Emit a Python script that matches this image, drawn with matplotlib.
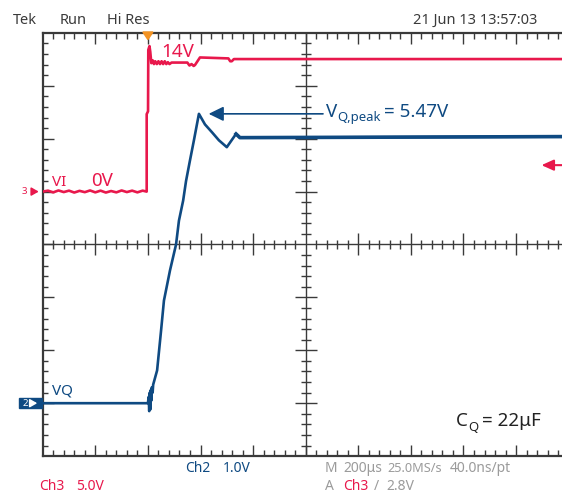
import matplotlib
matplotlib.use("Agg")
import matplotlib.pyplot as plt
from matplotlib.patches import Polygon, Rectangle, FancyArrowPatch

plt.rcParams['font.family'] = ['Noto Sans', 'DejaVu Sans']

# ---- scope settings ----
time_per_div_us = 200.0
trigger_div = 2.0          # trigger point, divisions from the left edge
vq_volts_per_div = 1.0
vq_ground_div = -3.0
vi_volts_per_div = 5.6
vi_ground_div = 1.0
trigger_level_v = 2.8

# ---- Ch2: regulator output VQ ----
vq_time_us = [-400, 0, 3, 5, 7, 9, 11, 13, 15, 18, 20, 35, 50, 61, 84, 107,
              118, 134, 145, 160, 175, 194, 217, 244, 270, 300, 335, 350, 1600]
vq_volts = [0.0, 0.0, 0.12, -0.15, 0.2, -0.12, 0.25, 0.05, 0.3, 0.2, 0.35,
            0.62, 1.37, 1.94, 2.51, 3.0, 3.45, 3.83, 4.2, 4.59, 4.97, 5.47,
            5.27, 5.12, 4.97, 4.84, 5.09, 5.02, 5.04]
vq_peak_v = 5.47
vq_peak_t = 194

# ---- Ch3: input VI ----
vi_time_us = [-400, -380, -360, -340, -320, -300, -280, -260, -240, -220,
              -200, -180, -160, -140, -120, -100, -80, -60, -40, -20, -5,
              -4.6, -4.6, 0.5, 1.5, 6, 9, 13, 18, 23, 28, 34, 40, 46, 52,
              58, 64, 70, 76, 82, 90, 150, 158, 166, 174, 179, 198, 306,
              313, 319, 327, 1600]
vi_volts = [0.0, 0.1, -0.08, 0.12, -0.05, 0.1, -0.1, 0.08, -0.06, 0.12,
            -0.08, 0.1, -0.1, 0.06, -0.08, 0.12, -0.05, 0.1, -0.08, 0.1, 0.0,
            0.0, 8.2, 8.5, 15.0, 15.4, 14.8, 13.6, 13.9, 13.5, 13.8, 13.5,
            13.8, 13.5, 13.8, 13.5, 13.8, 13.5, 13.7, 13.5, 13.66, 13.66,
            13.35, 13.5, 13.3, 13.4, 14.2, 14.1, 13.8, 13.8, 14.03, 14.03]
vi_initial_v = 0
vi_final_v = 14
cq_uf = 22

RED = '#e8184c'
BLUE = '#0f4a82'
DARK = '#3a3a3a'
GREY = '#9b9b9b'

W, H = 562, 493
fig = plt.figure(figsize=(W / 100, H / 100), dpi=100)
fig.patch.set_facecolor('white')
renderer = fig.canvas.get_renderer()

# graticule geometry in pixels
left_px, top_px = 42.7, 32.9
div_w, div_h = 52.6, 52.9
ax = fig.add_axes([left_px / W, 1 - (top_px + 8 * div_h) / H,
                   10 * div_w / W, 8 * div_h / H])
ax.set_xlim(0, 10)
ax.set_ylim(-4, 4)
ax.axis('off')


def px(x, y):
    return x / W, 1 - y / H


def t2x(t):
    return [trigger_div + v / time_per_div_us for v in t]


# ---- graticule ----
gk = dict(color=DARK, lw=1.0, solid_capstyle='butt', clip_on=False)
ax.plot([0, 10], [4, 4], color=DARK, lw=1.6, clip_on=False)
ax.plot([0, 10], [-4, -4], color=DARK, lw=1.6, clip_on=False)
ax.plot([0, 0], [-4, 4], color=DARK, lw=1.6, clip_on=False)
ax.plot([5, 5], [-4, 4], color=DARK, lw=1.0)
ax.plot([0, 10], [0, 0], color=DARK, lw=1.0)
mx = 6 / div_h
Mx = 11 / div_h
for i in range(1, 50):
    x = i * 0.2
    major = (i % 5 == 0)
    lv = Mx if major else mx
    ax.plot([x, x], [4, 4 - lv], **gk)
    ax.plot([x, x], [-4, -4 + lv], **gk)
    c = 11 / div_h if major else 4.5 / div_h
    if i != 25:
        ax.plot([x, x], [-c, c], **gk)
for j in range(1, 40):
    y = -4 + j * 0.2
    major = (j % 5 == 0)
    lh = (11 if major else 5) / div_w
    ax.plot([0, lh], [y, y], **gk)
    c = (11 if major else 5) / div_w
    if j != 20:
        ax.plot([5 - c, 5 + c], [y, y], **gk)

# ---- traces ----
vq_y = [vq_ground_div + v / vq_volts_per_div for v in vq_volts]
vi_y = [vi_ground_div + v / vi_volts_per_div for v in vi_volts]
ax.plot(t2x(vi_time_us), vi_y, color=RED, lw=1.9, solid_joinstyle='round')
ax.plot(t2x(vq_time_us), vq_y, color=BLUE, lw=1.9, solid_joinstyle='round')
settle = vq_time_us.index(335)
ax.plot(t2x(vq_time_us[settle:]), vq_y[settle:], color=BLUE, lw=2.6)

# peak annotation arrow
peak_x = t2x([vq_peak_t])[0]
peak_y = vq_ground_div + vq_peak_v / vq_volts_per_div
ax.annotate('', xy=(peak_x, peak_y), xytext=((323 - left_px) / div_w, peak_y),
            arrowprops=dict(arrowstyle='-|>,head_length=0.45,head_width=0.22',
                            mutation_scale=20, color=BLUE, lw=1.2,
                            shrinkA=0, shrinkB=7))


def sub_label(x0, base, main, sub, rest, size, color, drop, gap):
    """Main letter, lowered subscript, then the rest, laid out side by side."""
    t = fig.text(*px(x0, base), main, color=color, fontsize=size,
                 ha='left', va='baseline')
    x1 = t.get_window_extent(renderer).x1 + 0.5
    s = fig.text(x1 / W, 1 - (base + drop) / H, sub, color=color,
                 fontsize=size * 0.7, ha='left', va='baseline')
    x2 = s.get_window_extent(renderer).x1 + gap
    fig.text(x2 / W, 1 - base / H, rest, color=color, fontsize=size,
             ha='left', va='baseline')


sub_label(326.0, 117.5, 'V', 'Q,peak', '= %.2fV' % vq_peak_v, 13.5, BLUE,
          4.0, 3.0)
sub_label(455.5, 426.5, 'C', 'Q', '= %dμF' % cq_uf, 13.5, '#222222',
          4.5, 4.0)

# value labels
fig.text(*px(161, 57), '%dV' % vi_final_v, color=RED, fontsize=13.5,
         ha='left', va='baseline')
fig.text(*px(91, 186), '%dV' % vi_initial_v, color=RED, fontsize=13.5,
         ha='left', va='baseline')
fig.text(*px(52.5, 186), 'VI', color=RED, fontsize=11, ha='left',
         va='baseline')
fig.text(*px(52.5, 394.5), 'VQ', color=BLUE, fontsize=11, ha='left',
         va='baseline')

# trigger level arrow (right edge)
trig_y = vi_ground_div + trigger_level_v / vi_volts_per_div
ax.annotate('', xy=((541.5 - left_px) / div_w, trig_y),
            xytext=((566 - left_px) / div_w, trig_y),
            arrowprops=dict(arrowstyle='-|>,head_length=0.4,head_width=0.18',
                            mutation_scale=18, color=RED, lw=1.5,
                            shrinkA=0, shrinkB=0))

# trigger position marker
tx = left_px + trigger_div * div_w
fig.add_artist(Polygon([px(tx - 5, 32), px(tx + 5, 32), px(tx, 39.5)],
                       closed=True, color='#f39323', transform=fig.transFigure))

# channel ground markers
g3 = top_px + (4 - vi_ground_div) * div_h
fig.text(*px(24.5, g3), '3', color=RED, fontsize=7, va='center', ha='center')
fig.add_artist(FancyArrowPatch(px(29, g3), px(41.5, g3),
                               transform=fig.transFigure,
                               arrowstyle='-|>,head_length=0.35,head_width=0.2',
                               mutation_scale=12, color=RED, lw=1.2))
g2 = top_px + (4 - vq_ground_div) * div_h
fig.add_artist(Rectangle(px(19, g2 + 4.8), 22.7 / W, 9.6 / H, color=BLUE,
                         transform=fig.transFigure))
fig.text(*px(25, g2 + 0.3), '2', color='white', fontsize=7, va='center',
         ha='center')
fig.add_artist(FancyArrowPatch(px(28.5, g2), px(40, g2),
                               transform=fig.transFigure,
                               arrowstyle='-|>,head_length=0.35,head_width=0.2',
                               mutation_scale=12, color='white', lw=1.2))

# ---- header and footer ----
hk = dict(color=DARK, fontsize=10.5, va='center')
fig.text(*px(12.7, 20.5), 'Tek', ha='left', **hk)
fig.text(*px(60, 20.5), 'Run', ha='left', **hk)
fig.text(*px(106.7, 20.5), 'Hi Res', ha='left', **hk)
fig.text(*px(537.5, 20.5), '21 Jun 13 13:57:03', ha='right', **hk)

fk = dict(fontsize=10, va='center', ha='left')
fig.text(*px(185, 469), 'Ch2', color=BLUE, **fk)
fig.text(*px(222.5, 469), '%.1fV' % vq_volts_per_div, color=BLUE, **fk)
fig.text(*px(39, 487), 'Ch3', color=RED, **fk)
fig.text(*px(76.5, 487), '5.0V', color=RED, **fk)
fig.text(*px(325, 469), 'M', color=GREY, **fk)
fig.text(*px(343.3, 469), '%dμs' % time_per_div_us, color=GREY, **fk)
fig.text(*px(387.3, 469), '25.0MS/s', color=GREY, fontsize=9.2,
         va='center', ha='left')
fig.text(*px(450, 469), '40.0ns/pt', color=GREY, **fk)
fig.text(*px(325, 487), 'A', color=GREY, **fk)
fig.text(*px(342.7, 487), 'Ch3', color=RED, **fk)
fig.text(*px(373.5, 487), '/', color=GREY, **fk)
fig.text(*px(386.7, 487), '%.1fV' % trigger_level_v, color=GREY, **fk)

fig.savefig('out.png', dpi=100)
